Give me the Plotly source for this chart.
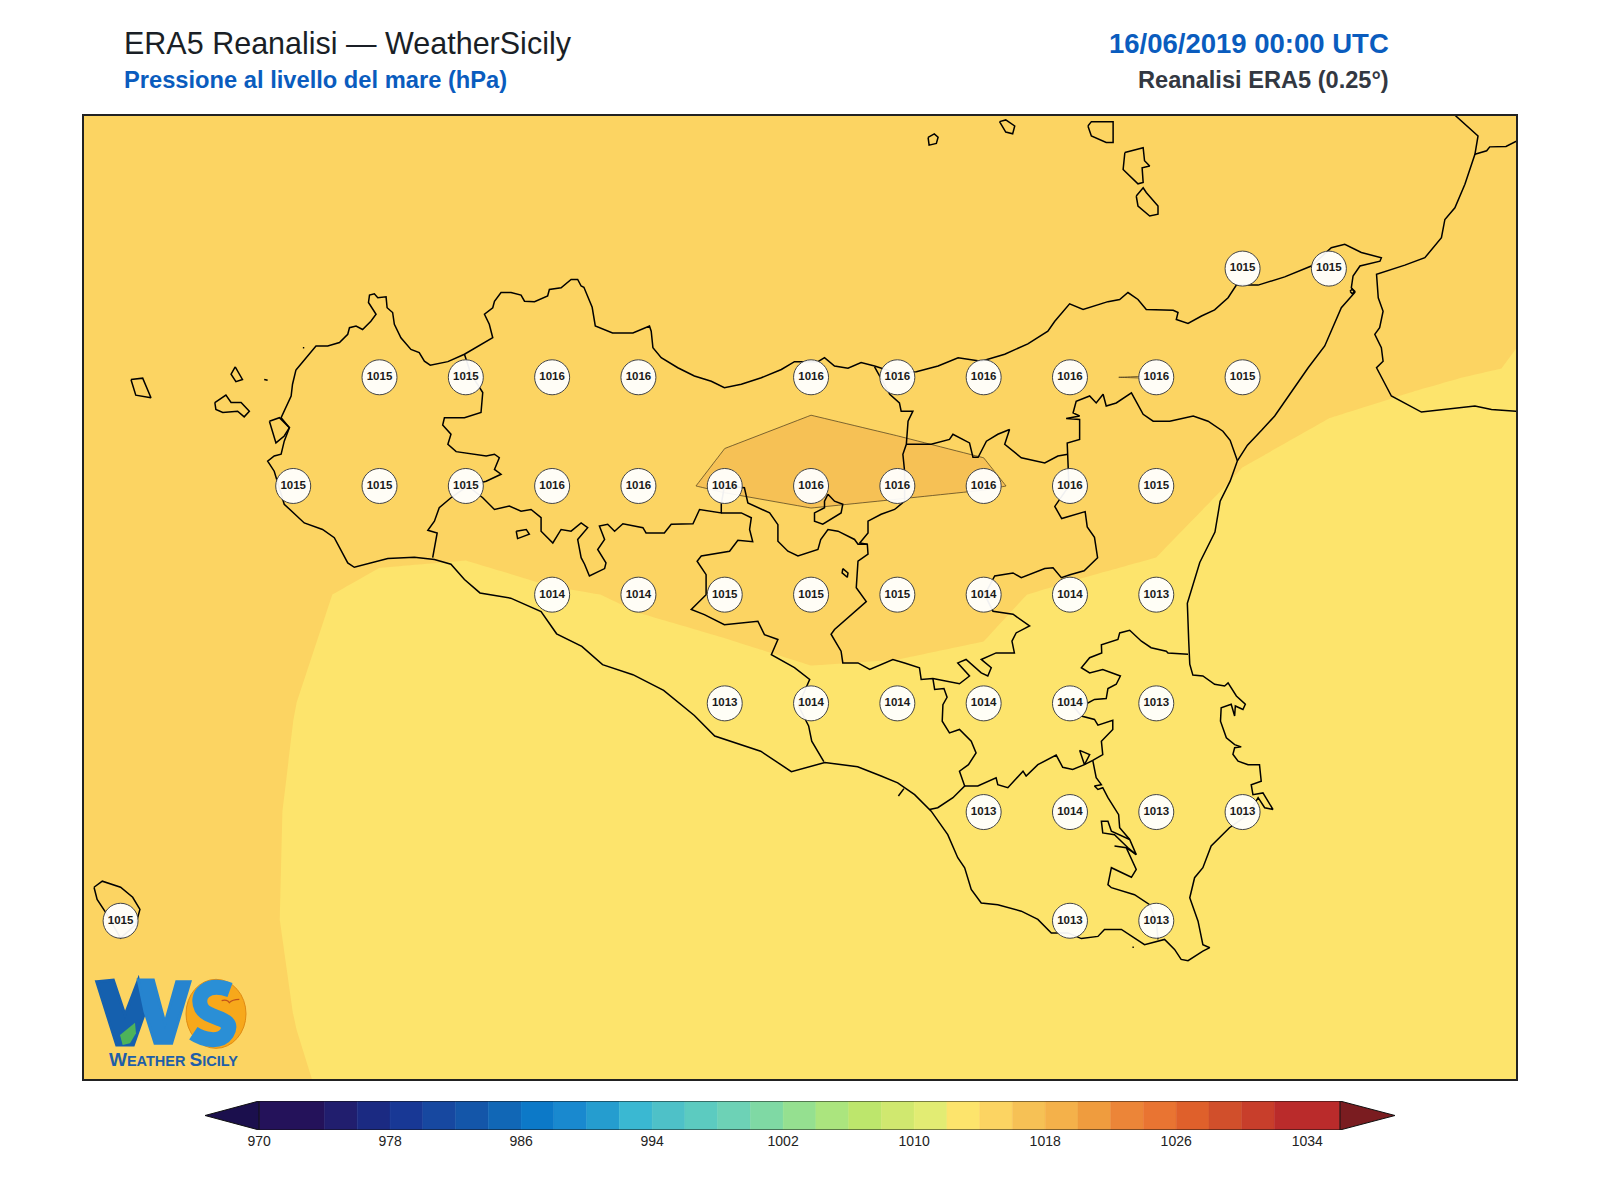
import plotly.graph_objects as go

# ERA5 0.25 deg grid, mean sea level pressure (hPa)
grid_lon = [11.75, 12.0, 12.25, 12.5, 12.75, 13.0, 13.25, 13.5, 13.75, 14.0,
            14.25, 14.5, 14.75, 15.0, 15.25, 15.5, 15.75, 16.0, 16.25]
grid_lat = [36.25, 36.5, 36.75, 37.0, 37.25, 37.5, 37.75, 38.0, 38.25, 38.5, 38.75]

mslp_3625 = [1015.3, 1015.1, 1014.9, 1014.3, 1013.6, 1013.4, 1013.3, 1013.2, 1013.1, 1013.1,
             1013.0, 1013.0, 1013.0, 1012.9, 1012.9, 1012.8, 1012.8, 1012.7, 1012.7]
mslp_3650 = [1015.3, 1015.0, 1014.7, 1014.02, 1013.5, 1013.4, 1013.3, 1013.3, 1013.2, 1013.2,
             1013.2, 1013.2, 1013.1, 1013.0, 1013.0, 1012.9, 1012.8, 1012.8, 1012.7]
mslp_3675 = [1015.3, 1015.0, 1014.66, 1013.88, 1013.5, 1013.4, 1013.4, 1013.3, 1013.3, 1013.4,
             1013.4, 1013.4, 1013.4, 1013.3, 1013.1, 1013.0, 1012.9, 1012.9, 1012.8]
mslp_3700 = [1015.3, 1015.1, 1014.7, 1013.9, 1013.5, 1013.4, 1013.3, 1013.3, 1013.3, 1013.45,
             1013.45, 1013.4, 1013.55, 1013.4, 1013.2, 1013.0, 1012.9, 1012.9, 1012.9]
mslp_3725 = [1015.4, 1015.2, 1014.8, 1014.02, 1013.5, 1013.3, 1013.4, 1013.5, 1013.25, 1013.52,
             1013.53, 1013.67, 1013.7, 1013.4, 1013.1, 1012.9, 1012.9, 1013.0, 1013.0]
mslp_3750 = [1015.4, 1015.2, 1014.9, 1014.19, 1013.77, 1013.54, 1013.87, 1014.1, 1014.5, 1014.9,
             1014.7, 1014.25, 1013.75, 1013.4, 1013.1, 1012.9, 1012.9, 1013.0, 1013.1]
mslp_3775 = [1015.5, 1015.3, 1015.1, 1014.9, 1014.7, 1015.0, 1015.6, 1015.8, 1016.1, 1016.28,
             1016.18, 1016.07, 1015.8, 1015.15, 1013.72, 1013.18, 1013.31, 1013.5, 1013.3]
mslp_3800 = [1015.6, 1015.4, 1015.2, 1015.1, 1015.0, 1015.3, 1015.6, 1015.7, 1015.81, 1015.85,
             1015.79, 1015.8, 1015.987, 1016.01, 1015.35, 1014.5, 1014.1, 1013.92, 1013.5]
mslp_3825 = [1015.5, 1015.4, 1015.3, 1015.3, 1015.3, 1015.3, 1015.4, 1015.4, 1015.4, 1015.4,
             1015.4, 1015.4, 1015.4, 1015.3, 1015.1, 1014.9, 1014.9, 1014.9, 1013.84]
mslp_3850 = [1015.5, 1015.4, 1015.4, 1015.3, 1015.3, 1015.3, 1015.3, 1015.3, 1015.3, 1015.3,
             1015.3, 1015.3, 1015.2, 1015.1, 1015.0, 1014.9, 1014.8, 1014.7, 1014.3]
mslp_3875 = [1015.4, 1015.4, 1015.3, 1015.3, 1015.3, 1015.2, 1015.2, 1015.2, 1015.2, 1015.2,
             1015.2, 1015.2, 1015.1, 1015.0, 1015.0, 1014.9, 1014.8, 1014.7, 1014.4]

# labelled points on land
station_lon = [15.25, 15.5,
               12.75, 13.0, 13.25, 13.5, 14.0, 14.25, 14.5, 14.75, 15.0, 15.25,
               12.5, 12.75, 13.0, 13.25, 13.5, 13.75, 14.0, 14.25, 14.5, 14.75, 15.0,
               13.25, 13.5, 13.75, 14.0, 14.25, 14.5, 14.75, 15.0,
               13.75, 14.0, 14.25, 14.5, 14.75, 15.0,
               14.5, 14.75, 15.0, 15.25,
               12.0, 14.75, 15.0]
station_lat = [38.25, 38.25,
               38.0, 38.0, 38.0, 38.0, 38.0, 38.0, 38.0, 38.0, 38.0, 38.0,
               37.75, 37.75, 37.75, 37.75, 37.75, 37.75, 37.75, 37.75, 37.75, 37.75, 37.75,
               37.5, 37.5, 37.5, 37.5, 37.5, 37.5, 37.5, 37.5,
               37.25, 37.25, 37.25, 37.25, 37.25, 37.25,
               37.0, 37.0, 37.0, 37.0,
               36.75, 36.75, 36.75]
station_hpa = [1015, 1015,
               1015, 1015, 1016, 1016, 1016, 1016, 1016, 1016, 1016, 1015,
               1015, 1015, 1015, 1016, 1016, 1016, 1016, 1016, 1016, 1016, 1015,
               1014, 1014, 1015, 1015, 1015, 1014, 1014, 1013,
               1013, 1014, 1014, 1014, 1014, 1013,
               1013, 1014, 1013, 1013,
               1015, 1013, 1013]

# colour bands
band_edges = [970, 974, 976, 978, 980, 982, 984, 986, 988, 990, 992, 994, 996, 998, 1000, 1002,
              1004, 1006, 1008, 1010, 1012, 1014, 1016, 1018, 1020, 1022, 1024, 1026, 1028,
              1030, 1032, 1036]
band_colors = ["#24125A", "#211E6E", "#1B2A82", "#183895", "#1748A0", "#1456A9", "#1167B6",
               "#0C79C8", "#1989CF", "#259DCF", "#3AB8D2", "#4EC1C8", "#5CCBC0", "#6DD2B6",
               "#7FD9A4", "#95E090", "#ABE57E", "#BDE66C", "#D0E86F", "#E2EC73", "#FDE46C",
               "#FCD462", "#F6C155", "#F4B14A", "#EF9C3E", "#EC8538", "#E97432", "#DF602B",
               "#D14F2B", "#C83E2B", "#BA2B2B"]
bar_ticks = [970, 978, 986, 994, 1002, 1010, 1018, 1026, 1034]

# coast and province lines as (lon, lat)
sicily_coast = [
    (12.508, 38.017), (12.530, 38.037), (12.552, 38.057), (12.566, 38.072), (12.600, 38.072),
    (12.634, 38.080), (12.658, 38.099), (12.663, 38.114), (12.682, 38.118), (12.701, 38.110),
    (12.725, 38.129), (12.740, 38.145), (12.718, 38.172), (12.721, 38.189), (12.735, 38.192),
    (12.745, 38.183), (12.769, 38.185), (12.772, 38.160), (12.788, 38.149), (12.793, 38.122),
    (12.812, 38.091), (12.841, 38.064), (12.865, 38.057), (12.880, 38.037), (12.897, 38.028),
    (12.948, 38.036), (12.996, 38.053), (13.039, 38.072), (13.078, 38.091), (13.068, 38.122),
    (13.054, 38.145), (13.078, 38.160), (13.083, 38.175), (13.102, 38.195), (13.131, 38.195),
    (13.160, 38.189), (13.170, 38.175), (13.199, 38.174), (13.237, 38.187), (13.242, 38.202),
    (13.276, 38.206), (13.305, 38.225), (13.324, 38.225), (13.334, 38.210), (13.342, 38.207),
    (13.366, 38.161), (13.375, 38.118), (13.425, 38.102), (13.484, 38.102), (13.532, 38.118),
    (13.537, 38.106), (13.542, 38.068), (13.566, 38.045), (13.614, 38.022), (13.662, 38.003),
    (13.711, 37.991), (13.749, 37.976), (13.798, 37.984), (13.856, 37.999), (13.914, 38.018),
    (13.952, 38.036), (14.020, 38.036), (14.039, 38.045), (14.068, 38.026), (14.107, 38.021),
    (14.145, 38.034), (14.184, 38.026), (14.242, 38.011), (14.305, 38.013), (14.368, 38.026),
    (14.426, 38.045), (14.493, 38.037), (14.561, 38.053), (14.628, 38.077), (14.686, 38.106),
    (14.706, 38.129), (14.749, 38.169), (14.788, 38.156), (14.860, 38.174), (14.894, 38.179),
    (14.918, 38.195), (14.947, 38.179), (14.971, 38.156), (15.049, 38.154), (15.063, 38.149),
    (15.058, 38.133), (15.092, 38.124), (15.131, 38.141), (15.169, 38.155), (15.208, 38.183),
    (15.232, 38.212), (15.295, 38.212), (15.372, 38.231), (15.449, 38.256), (15.507, 38.298),
    (15.546, 38.306), (15.594, 38.287), (15.652, 38.275), (15.648, 38.267), (15.590, 38.256),
    (15.570, 38.233), (15.565, 38.206), (15.575, 38.195), (15.536, 38.160), (15.507, 38.106),
    (15.488, 38.072), (15.440, 38.022), (15.372, 37.945), (15.343, 37.911), (15.305, 37.878),
    (15.264, 37.844), (15.235, 37.808), (15.214, 37.761), (15.185, 37.715), (15.170, 37.644),
    (15.126, 37.574), (15.090, 37.480), (15.094, 37.393), (15.097, 37.340), (15.106, 37.315),
    (15.135, 37.313), (15.169, 37.294), (15.198, 37.290), (15.208, 37.297), (15.232, 37.267),
    (15.258, 37.248), (15.251, 37.236), (15.229, 37.244), (15.227, 37.221), (15.217, 37.248),
    (15.188, 37.240), (15.186, 37.209), (15.203, 37.171), (15.227, 37.155), (15.246, 37.150),
    (15.227, 37.148), (15.222, 37.133), (15.237, 37.117), (15.266, 37.109), (15.299, 37.109),
    (15.304, 37.071), (15.275, 37.063), (15.280, 37.040), (15.309, 37.044), (15.338, 37.006),
    (15.314, 37.010), (15.295, 37.033), (15.266, 36.994), (15.212, 36.964), (15.159, 36.922),
    (15.135, 36.872), (15.111, 36.849), (15.097, 36.803), (15.121, 36.749), (15.135, 36.695),
    (15.155, 36.688), (15.135, 36.680), (15.092, 36.658), (15.072, 36.661), (15.053, 36.684),
    (15.024, 36.707), (14.966, 36.695), (14.899, 36.730), (14.850, 36.730), (14.831, 36.714),
    (14.783, 36.709), (14.744, 36.722), (14.696, 36.722), (14.657, 36.753), (14.609, 36.772),
    (14.541, 36.787), (14.493, 36.791), (14.464, 36.822), (14.445, 36.872), (14.425, 36.895),
    (14.396, 36.948), (14.348, 37.002), (14.300, 37.040), (14.251, 37.067), (14.203, 37.083),
    (14.135, 37.104), (14.040, 37.114), (13.943, 37.093), (13.854, 37.140), (13.721, 37.175),
    (13.662, 37.222), (13.573, 37.280), (13.484, 37.316), (13.396, 37.339), (13.336, 37.381),
    (13.263, 37.410), (13.218, 37.461), (13.130, 37.492), (13.041, 37.504), (12.996, 37.535),
    (12.957, 37.570), (12.909, 37.581), (12.851, 37.586), (12.774, 37.583), (12.677, 37.563),
    (12.658, 37.573), (12.619, 37.631), (12.585, 37.650), (12.532, 37.665), (12.489, 37.696),
    (12.474, 37.708), (12.445, 37.784), (12.426, 37.807), (12.445, 37.819), (12.465, 37.823),
    (12.474, 37.853), (12.489, 37.884), (12.465, 37.907), (12.494, 37.957), (12.498, 37.984),
    (12.508, 38.017),
]
stagnone = [(12.431, 37.899), (12.460, 37.907), (12.489, 37.884), (12.474, 37.865),
            (12.450, 37.849), (12.440, 37.876), (12.431, 37.899)]
marettimo = [(12.030, 37.995), (12.064, 37.998), (12.088, 37.953), (12.044, 37.959), (12.030, 37.995)]
favignana = [(12.273, 37.942), (12.305, 37.959), (12.320, 37.942), (12.349, 37.942), (12.373, 37.922),
             (12.358, 37.909), (12.339, 37.922), (12.296, 37.919), (12.276, 37.926), (12.273, 37.942)]
levanzo = [(12.332, 38.024), (12.353, 37.995), (12.334, 37.990), (12.320, 38.007), (12.332, 38.024)]
formica = [(12.416, 37.995), (12.426, 37.993)]
trapani_islet = [(12.528, 38.068), (12.532, 38.068)]
pantelleria = [(11.923, 36.827), (11.947, 36.841), (12.000, 36.827), (12.035, 36.804), (12.056, 36.776),
               (12.044, 36.741), (12.000, 36.710), (11.961, 36.764), (11.932, 36.799), (11.923, 36.827)]
ustica = [(14.339, 38.552), (14.357, 38.560), (14.368, 38.552), (14.363, 38.538), (14.342, 38.534),
          (14.339, 38.552)]
filicudi = [(14.546, 38.588), (14.564, 38.592), (14.590, 38.578), (14.584, 38.560), (14.564, 38.564),
            (14.546, 38.588)]
salina = [(14.802, 38.578), (14.812, 38.588), (14.875, 38.588), (14.875, 38.540), (14.855, 38.540),
          (14.812, 38.555), (14.802, 38.578)]
lipari = [(14.909, 38.517), (14.962, 38.528), (14.966, 38.498), (14.981, 38.486), (14.959, 38.482),
          (14.962, 38.448), (14.947, 38.445), (14.904, 38.478), (14.909, 38.517)]
vulcano = [(14.942, 38.417), (14.962, 38.436), (14.971, 38.425), (15.005, 38.394), (15.005, 38.375),
           (14.981, 38.371), (14.947, 38.394), (14.942, 38.417)]
calabria = [(15.860, 38.610), (15.865, 38.603), (15.932, 38.555), (15.923, 38.513), (15.894, 38.444),
            (15.865, 38.390), (15.836, 38.363), (15.826, 38.321), (15.778, 38.275), (15.720, 38.258),
            (15.638, 38.237), (15.643, 38.183), (15.657, 38.152), (15.647, 38.114), (15.633, 38.099),
            (15.652, 38.068), (15.657, 38.037), (15.638, 38.022), (15.681, 37.957), (15.768, 37.920),
            (15.923, 37.934), (15.971, 37.926), (16.060, 37.921)]
calabria_branch = [(15.923, 38.513), (15.957, 38.521), (15.966, 38.530), (16.013, 38.531), (16.060, 38.550)]
trapani_border = [
    (12.996, 38.053), (13.015, 38.007), (13.049, 37.965), (13.044, 37.919), (12.996, 37.907),
    (12.938, 37.907), (12.933, 37.890), (12.957, 37.869), (12.948, 37.846), (12.972, 37.829),
    (13.059, 37.819), (13.083, 37.823), (13.097, 37.815), (13.083, 37.788), (13.102, 37.777),
    (13.059, 37.761), (13.006, 37.750), (12.957, 37.723), (12.923, 37.700), (12.909, 37.669),
    (12.890, 37.648), (12.917, 37.642), (12.904, 37.585),
]
palermo_south_border = [
    (13.006, 37.750), (13.049, 37.723), (13.083, 37.696), (13.126, 37.704), (13.160, 37.692),
    (13.189, 37.696), (13.218, 37.677), (13.218, 37.646), (13.252, 37.619), (13.276, 37.650),
    (13.305, 37.646), (13.334, 37.665), (13.353, 37.654), (13.324, 37.627), (13.334, 37.585),
    (13.344, 37.570), (13.358, 37.543), (13.402, 37.560), (13.406, 37.573), (13.382, 37.604),
    (13.402, 37.627), (13.387, 37.658), (13.411, 37.662), (13.431, 37.646), (13.455, 37.663),
    (13.513, 37.654), (13.522, 37.642), (13.575, 37.642), (13.595, 37.662), (13.658, 37.663),
    (13.677, 37.696), (13.740, 37.688), (13.740, 37.708), (13.749, 37.750),
]
caltanissetta_west = [
    (13.740, 37.688), (13.798, 37.688), (13.827, 37.677), (13.822, 37.650), (13.831, 37.622),
    (13.788, 37.625), (13.764, 37.600), (13.682, 37.589), (13.670, 37.577), (13.696, 37.546),
    (13.696, 37.500), (13.653, 37.466), (13.691, 37.454), (13.749, 37.431), (13.846, 37.439),
    (13.865, 37.408), (13.904, 37.397), (13.885, 37.362), (13.952, 37.332), (13.996, 37.305),
    (13.963, 37.245), (13.993, 37.198), (14.002, 37.163), (14.037, 37.116),
]
enna_south = [
    (13.749, 37.750), (13.807, 37.746), (13.817, 37.711), (13.880, 37.688), (13.904, 37.661),
    (13.904, 37.623), (13.933, 37.600), (13.962, 37.589), (14.020, 37.604), (14.028, 37.627),
    (14.049, 37.650), (14.078, 37.646), (14.126, 37.627), (14.136, 37.616), (14.163, 37.616),
    (14.165, 37.593), (14.136, 37.577), (14.131, 37.516), (14.160, 37.484), (14.068, 37.420),
    (14.058, 37.409), (14.087, 37.370), (14.092, 37.343), (14.136, 37.343), (14.170, 37.328),
    (14.203, 37.339), (14.237, 37.351), (14.271, 37.343), (14.314, 37.332), (14.319, 37.305),
    (14.353, 37.307), (14.430, 37.295), (14.459, 37.313), (14.425, 37.343), (14.449, 37.351),
    (14.493, 37.320), (14.512, 37.313), (14.522, 37.332), (14.493, 37.351), (14.536, 37.366),
    (14.589, 37.366), (14.582, 37.393), (14.594, 37.412), (14.633, 37.428), (14.585, 37.455),
    (14.527, 37.462), (14.503, 37.500), (14.532, 37.543), (14.585, 37.550), (14.609, 37.539),
    (14.677, 37.560), (14.701, 37.562), (14.725, 37.539), (14.750, 37.546), (14.791, 37.555),
    (14.830, 37.585), (14.821, 37.632), (14.800, 37.656), (14.794, 37.691), (14.726, 37.675),
    (14.706, 37.703), (14.747, 37.750), (14.744, 37.823), (14.742, 37.849), (14.778, 37.857),
    (14.778, 37.903), (14.739, 37.905), (14.778, 37.911), (14.759, 37.918), (14.768, 37.945),
    (14.807, 37.957), (14.826, 37.941), (14.846, 37.961), (14.855, 37.934), (14.884, 37.941),
    (14.928, 37.964), (14.962, 37.915), (14.991, 37.899), (15.039, 37.899), (15.107, 37.911),
    (15.150, 37.899), (15.193, 37.876), (15.214, 37.855), (15.235, 37.808),
]
palermo_east_border = [
    (14.184, 38.024), (14.228, 37.961), (14.256, 37.941), (14.261, 37.922), (14.295, 37.922),
    (14.281, 37.899), (14.276, 37.846), (14.266, 37.823), (14.271, 37.784), (14.271, 37.715),
    (14.242, 37.696), (14.203, 37.685), (14.165, 37.669), (14.165, 37.642), (14.141, 37.619),
    (14.163, 37.616),
]
enna_north = [
    (14.276, 37.846), (14.348, 37.846), (14.401, 37.857), (14.411, 37.869), (14.459, 37.849),
    (14.469, 37.816), (14.484, 37.816), (14.508, 37.853), (14.541, 37.869), (14.575, 37.880),
    (14.561, 37.846), (14.609, 37.815), (14.677, 37.803), (14.715, 37.819), (14.744, 37.823),
]
enclave_north = [(14.049, 37.731), (14.068, 37.715), (14.092, 37.708), (14.087, 37.688), (14.034, 37.662),
                 (14.010, 37.669), (14.010, 37.688), (14.039, 37.700), (14.039, 37.715), (14.049, 37.731)]
enclave_west = [(13.146, 37.646), (13.175, 37.650), (13.184, 37.639), (13.150, 37.629), (13.146, 37.646)]
lake = [(14.092, 37.560), (14.107, 37.550), (14.105, 37.540), (14.090, 37.550), (14.092, 37.560)]
gela_border = [
    (14.353, 37.307), (14.358, 37.282), (14.385, 37.284), (14.394, 37.264), (14.382, 37.247),
    (14.380, 37.209), (14.401, 37.182), (14.430, 37.190), (14.464, 37.163), (14.478, 37.136),
    (14.456, 37.109), (14.430, 37.094), (14.445, 37.060), (14.411, 37.033), (14.367, 37.010),
    (14.343, 37.006),
]
ragusa_north = [
    (14.445, 37.060), (14.483, 37.060), (14.536, 37.079), (14.541, 37.063), (14.570, 37.056),
    (14.614, 37.094), (14.623, 37.083), (14.657, 37.109), (14.710, 37.131), (14.729, 37.103),
    (14.758, 37.098), (14.792, 37.109), (14.816, 37.119),
]
siracusa_north = [
    (14.816, 37.119), (14.845, 37.132), (14.841, 37.163), (14.874, 37.190), (14.874, 37.211),
    (14.831, 37.200), (14.821, 37.213), (14.783, 37.221), (14.754, 37.249), (14.802, 37.251),
    (14.821, 37.259), (14.855, 37.261), (14.860, 37.284), (14.884, 37.294), (14.896, 37.313),
    (14.845, 37.328), (14.807, 37.320), (14.783, 37.332), (14.807, 37.355), (14.842, 37.366),
    (14.841, 37.385), (14.889, 37.397), (14.894, 37.412), (14.923, 37.418), (14.957, 37.393),
    (14.985, 37.378), (15.029, 37.370), (15.034, 37.366), (15.092, 37.363),
]
ragusa_east = [
    (14.816, 37.119), (14.826, 37.079), (14.841, 37.063), (14.821, 37.060), (14.831, 37.052),
    (14.845, 37.056), (14.860, 37.033), (14.891, 36.994), (14.894, 36.964), (14.923, 36.937),
    (14.942, 36.902), (14.913, 36.918), (14.879, 36.922), (14.913, 36.918), (14.942, 36.868),
    (14.928, 36.850), (14.870, 36.872), (14.860, 36.833), (14.870, 36.826), (14.937, 36.810),
    (14.981, 36.787), (15.000, 36.750), (15.005, 36.707),
]
ragusa_strip = [(14.942, 36.902), (14.918, 36.918), (14.879, 36.948), (14.845, 36.952), (14.841, 36.979),
                (14.860, 36.979), (14.870, 36.956), (14.923, 36.937)]
small_loop = [(14.778, 37.142), (14.807, 37.132), (14.792, 37.109), (14.778, 37.142)]
small_tick = [(14.253, 37.037), (14.269, 37.054)]
messina_loop = [(15.561, 38.198), (15.568, 38.203), (15.575, 38.198), (15.568, 38.192), (15.561, 38.198)]
passero_islet = [(14.931, 36.689), (14.935, 36.689)]

all_lines = [sicily_coast, stagnone, marettimo, favignana, levanzo, formica, trapani_islet, pantelleria,
             ustica, filicudi, salina, lipari, vulcano, calabria, calabria_branch, trapani_border,
             palermo_south_border, caltanissetta_west, enna_south, palermo_east_border, enna_north,
             enclave_north, enclave_west, lake, gela_border, ragusa_north, siracusa_north,
             ragusa_east, ragusa_strip, small_loop, small_tick, messina_loop, passero_islet]


def line_xy(lines):
    # one trace for all the lines, None splits them
    xs, ys = [], []
    for line in lines:
        xs += [p[0] for p in line] + [None]
        ys += [p[1] for p in line] + [None]
    return xs, ys


def step_colorscale(edges, colors):
    lo, hi = edges[0], edges[-1]
    scale = []
    for i, color in enumerate(colors):
        scale.append([(edges[i] - lo) / (hi - lo), color])
        scale.append([(edges[i + 1] - lo) / (hi - lo), color])
    return scale


# logo helpers: a 180x120 box at the lower left corner, units of 1/3 pixel
def lx(v):
    return (80 + v / 3) / 1600


def ly(v):
    return 1 - (940 + v / 3) / 1200


def logo_poly(points):
    parts = [f"{lx(x):.5f},{ly(y):.5f}" for x, y in points]
    return "M " + " L ".join(parts) + " Z"


def logo_curve(points):
    # first point then triples of bezier points
    s = f"M {lx(points[0][0]):.5f},{ly(points[0][1]):.5f}"
    rest = points[1:]
    for i in range(0, len(rest), 3):
        s += " C " + " ".join(f"{lx(x):.5f},{ly(y):.5f}" for x, y in rest[i:i + 3])
    return s


fig = go.Figure()

fig.add_trace(go.Contour(
    x=grid_lon, y=grid_lat,
    z=[mslp_3625, mslp_3650, mslp_3675, mslp_3700, mslp_3725, mslp_3750,
       mslp_3775, mslp_3800, mslp_3825, mslp_3850, mslp_3875],
    autocontour=False,
    contours=dict(start=970, end=1036, size=2, coloring="fill", showlines=False),
    colorscale=step_colorscale(band_edges, band_colors),
    zmin=970, zmax=1036,
    line=dict(width=0, smoothing=0),
    showscale=False, hoverinfo="skip",
))
# only the 1016 isobar has an outline
fig.add_trace(go.Contour(
    x=grid_lon, y=grid_lat,
    z=[mslp_3625, mslp_3650, mslp_3675, mslp_3700, mslp_3725, mslp_3750,
       mslp_3775, mslp_3800, mslp_3825, mslp_3850, mslp_3875],
    autocontour=False,
    contours=dict(start=1016, end=1016, size=2, coloring="none"),
    line=dict(color="rgba(50,40,20,0.8)", width=0.8, smoothing=0),
    showscale=False, hoverinfo="skip",
))

coast_x, coast_y = line_xy(all_lines)
fig.add_trace(go.Scatter(
    x=coast_x, y=coast_y, mode="lines",
    line=dict(color="#000000", width=1.5),
    hoverinfo="skip", showlegend=False,
))

fig.add_trace(go.Scatter(
    x=station_lon, y=station_lat, mode="markers+text",
    marker=dict(size=35, color="rgba(255,255,255,0.94)", line=dict(color="#444444", width=1)),
    text=[str(v) for v in station_hpa],
    textposition="middle center",
    textfont=dict(family="Liberation Sans", size=11.5, color="#1a1a1a", weight="bold"),
    hoverinfo="skip", showlegend=False,
))

# colour bar on its own axes, arrows at both ends
fig.add_trace(go.Bar(
    x=[band_edges[i + 1] - band_edges[i] for i in range(len(band_colors))],
    base=band_edges[:-1],
    y=[0] * len(band_colors),
    orientation="h", width=1,
    marker=dict(color=band_colors, line=dict(color=band_colors, width=0.5)),
    xaxis="x2", yaxis="y2", hoverinfo="skip", showlegend=False,
))
fig.add_trace(go.Scatter(
    x=[966.7, 970, 970, 966.7], y=[0, 0.5, -0.5, 0], mode="lines", fill="toself",
    fillcolor="#1B0F4D", line=dict(color="#111111", width=1),
    xaxis="x2", yaxis="y2", hoverinfo="skip", showlegend=False,
))
fig.add_trace(go.Scatter(
    x=[1039.36, 1036, 1036, 1039.36], y=[0, 0.5, -0.5, 0], mode="lines", fill="toself",
    fillcolor="#7A1C20", line=dict(color="#111111", width=1),
    xaxis="x2", yaxis="y2", hoverinfo="skip", showlegend=False,
))
fig.add_trace(go.Scatter(
    x=[970, 1036, None, 970, 1036], y=[0.5, 0.5, None, -0.5, -0.5], mode="lines",
    line=dict(color="#111111", width=1),
    xaxis="x2", yaxis="y2", hoverinfo="skip", showlegend=False,
))

frame = dict(showline=True, linecolor="#222222", linewidth=1.6, mirror=True,
             showgrid=False, zeroline=False, showticklabels=False, ticks="")
fig.update_layout(
    width=1600, height=1200,
    margin=dict(l=0, r=0, t=0, b=0),
    paper_bgcolor="#ffffff", plot_bgcolor="#ffffff",
    showlegend=False, barmode="overlay",
    font=dict(family="Liberation Sans", color="#222222"),
    xaxis=dict(domain=[84 / 1600, 1516 / 1600], range=[11.894, 16.042], **frame),
    yaxis=dict(domain=[1 - 1079 / 1200, 1 - 116 / 1200], range=[36.386, 38.601], **frame),
    xaxis2=dict(domain=[205 / 1600, 1395 / 1600], range=[966.7, 1039.36], anchor="y2",
                tickmode="array", tickvals=bar_ticks, ticks="", showgrid=False, zeroline=False,
                ticklabelstandoff=1,
                tickfont=dict(family="Liberation Sans", size=14, color="#222222")),
    yaxis2=dict(domain=[1 - 1130 / 1200, 1 - 1101 / 1200], range=[-0.5, 0.5], anchor="x2",
                visible=False),
)

titles = [
    dict(x=122, y=43, xanchor="left", text="ERA5 Reanalisi \u2014 WeatherSicily",
         font=dict(size=30.5, color="#1a1f26")),
    dict(x=122, y=80, xanchor="left", text="Pressione al livello del mare (hPa)",
         font=dict(size=23.7, color="#0A5CBE", weight="bold")),
    dict(x=1391, y=44, xanchor="right", text="16/06/2019 00:00 UTC",
         font=dict(size=27.5, color="#0A5CBE", weight="bold")),
    dict(x=1391, y=80, xanchor="right", text="Reanalisi ERA5 (0.25\u00b0)",
         font=dict(size=23.6, color="#333842", weight="bold")),
]
for t in titles:
    t["font"]["family"] = "Liberation Sans"
    fig.add_annotation(x=t["x"] / 1600, y=1 - t["y"] / 1200, xref="paper", yref="paper",
                       xanchor=t["xanchor"], yanchor="middle", text=t["text"],
                       showarrow=False, font=t["font"])

# logo, drawn with shapes
logo_shapes = [
    dict(type="circle", x0=lx(318), x1=lx(498), y0=ly(118), y1=ly(325),
         fillcolor="#F7A81B", line=dict(color="#E08A12", width=1)),
    dict(type="path", path=logo_poly([(50, 125), (100, 120), (135, 225), (175, 120), (195, 215),
                                      (160, 315), (110, 315)]),
         fillcolor="#1560AE", line=dict(color="#1560AE", width=3)),
    dict(type="path", path=logo_poly([(175, 120), (220, 120), (255, 250), (290, 125), (330, 125),
                                      (275, 310), (225, 310), (195, 215)]),
         fillcolor="#2684CF", line=dict(color="#2684CF", width=3)),
    dict(type="path", path=logo_poly([(120, 285), (165, 248), (168, 280), (150, 310), (128, 315)]),
         fillcolor="#4DB35A", line=dict(width=0)),
    dict(type="path", path=logo_curve([(450, 150), (380, 125), (345, 165), (365, 205),
                                       (385, 240), (470, 230), (440, 280),
                                       (420, 310), (370, 300), (340, 280)]),
         fillcolor="rgba(0,0,0,0)", line=dict(color="#2A8FD6", width=15)),
    dict(type="path", path=logo_curve([(425, 182), (435, 178), (445, 182), (448, 188),
                                       (455, 180), (465, 178), (478, 178)]),
         fillcolor="rgba(0,0,0,0)", line=dict(color="#C0521A", width=1.2)),
]
for s in logo_shapes:
    fig.add_shape(xref="paper", yref="paper", layer="above", **s)

fig.add_annotation(x=173.5 / 1600, y=1 - 1059 / 1200, xref="paper", yref="paper", showarrow=False,
                   xanchor="center", yanchor="middle",
                   text="<span style='font-size:19px'>W</span>EATHER "
                        "<span style='font-size:19px'>S</span>ICILY",
                   font=dict(family="Liberation Sans", size=14.5, color="#1F5EA8", weight="bold"))

fig.write_html("out.html", config=dict(displayModeBar=False),
               post_script="document.body.style.margin='0';")
